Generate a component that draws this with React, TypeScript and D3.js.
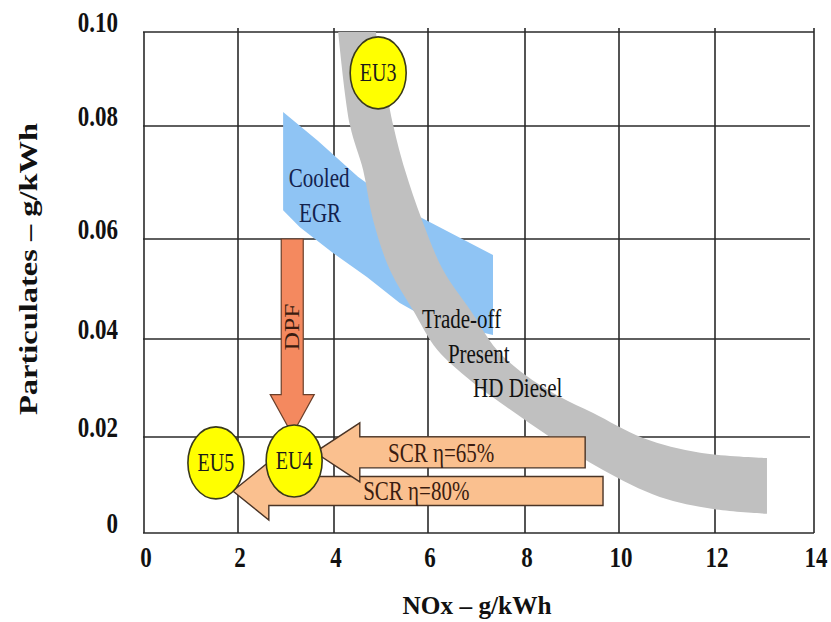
import React from "react";
import * as d3 from "d3";

// ---- axes ----
const NOX_TICKS = [0, 2, 4, 6, 8, 10, 12, 14];
const PM_TICKS = [0, 0.02, 0.04, 0.06, 0.08, 0.1];
const PM_TICK_LABELS = ["0", "0.02", "0.04", "0.06", "0.08", "0.10"];
const NOX_TICK_LABELS = ["0", "2", "4", "6", "8", "10", "12", "14"];

// ---- trade-off band (NOx, PM) ----
const TRADEOFF_LOWER: [number, number][] = [
  [4.09, 0.1], [4.34, 0.0802], [4.62, 0.0722], [4.83, 0.0634], [5.19, 0.0538],
  [5.68, 0.0458], [6.19, 0.0378], [6.87, 0.0316], [7.48, 0.0271], [8.53, 0.02],
  [9.66, 0.0131], [10.85, 0.0075], [11.96, 0.005], [13.05, 0.004],
];
const TRADEOFF_UPPER: [number, number][] = [
  [4.89, 0.1], [5.26, 0.0802], [5.51, 0.0722], [5.87, 0.0634], [6.31, 0.0538],
  [6.87, 0.0458], [7.42, 0.0378], [8.0, 0.0327], [8.74, 0.0282], [9.45, 0.0249],
  [10.5, 0.0198], [11.69, 0.0167], [13.05, 0.0156],
];

// ---- cooled EGR region (NOx, PM) ----
const EGR_REGION: [number, number][] = [
  [2.94, 0.083], [3.65, 0.0775], [4.51, 0.071], [5.19, 0.0669], [5.83, 0.0639],
  [7.34, 0.0568], [7.34, 0.0408], [6.04, 0.0438], [5.4, 0.0472], [4.7, 0.0524],
  [3.98, 0.0572], [3.29, 0.0621], [2.94, 0.0651],
];

// ---- emission stages ----
const STAGES = ["EU3", "EU5", "EU4"];
const STAGE_NOX = [4.94, 1.53, 3.17];
const STAGE_PM = [0.0913, 0.0146, 0.015];

// ---- arrows: [fromNOx, fromPM, toNOx, toPM] ----
const DPF_ARROW = [3.13, 0.06, 3.13, 0.0205];
const SCR80_ARROW = [9.66, 0.00875, 1.89, 0.00875];
const SCR65_ARROW = [9.28, 0.0168, 3.6, 0.0168];

// ---- annotations ----
const NOTES = [
  { text: "Cooled", nox: 3.69, pm: 0.0692, anchor: "middle", color: "#13224d" },
  { text: "EGR", nox: 3.71, pm: 0.063, anchor: "middle", color: "#13224d" },
  { text: "Trade-off", nox: 5.87, pm: 0.0422, anchor: "start", color: "#111" },
  { text: "Present", nox: 6.41, pm: 0.0351, anchor: "start", color: "#111" },
  { text: "HD Diesel", nox: 6.93, pm: 0.0282, anchor: "start", color: "#111" },
  { text: "SCR η=65%", nox: 5.15, pm: 0.0148, anchor: "start", color: "#3a1c10" },
  { text: "SCR η=80%", nox: 4.62, pm: 0.0069, anchor: "start", color: "#3a1c10" },
];

const W = 831;
const H = 622;
const SY = 1.25;
const FONT = "Liberation Serif, Times New Roman, serif";

const x = d3.scaleLinear().domain(NOX_TICKS).range([144, 238, 334, 428, 525, 619, 715, 814]);
const y = d3.scaleLinear().domain(PM_TICKS).range([533, 437, 339, 239, 126, 32]);

function arrowPath(a: number[], shaftHalf: number, headHalf: number, headLen: number) {
  const x0 = x(a[0]), y0 = y(a[1]), x1 = x(a[2]), y1 = y(a[3]);
  const dx = x1 - x0, dy = y1 - y0;
  const len = Math.hypot(dx, dy);
  const ux = dx / len, uy = dy / len;
  const px = -uy, py = ux;
  const bx = x1 - ux * headLen, by = y1 - uy * headLen;
  const pts: [number, number][] = [
    [x0 + px * shaftHalf, y0 + py * shaftHalf],
    [bx + px * shaftHalf, by + py * shaftHalf],
    [bx + px * headHalf, by + py * headHalf],
    [x1, y1],
    [bx - px * headHalf, by - py * headHalf],
    [bx - px * shaftHalf, by - py * shaftHalf],
    [x0 - px * shaftHalf, y0 - py * shaftHalf],
  ];
  return d3.line()(pts) + "Z";
}

function STxt({ tx, ty, anchor = "start", size = 21, weight = "normal", color = "#111", sy = SY, children, len }: any) {
  return (
    <g transform={`translate(${tx},${ty}) scale(1,${sy})`}>
      <text
        x={0}
        y={0}
        textAnchor={anchor}
        fontFamily={FONT}
        fontSize={size}
        fontWeight={weight}
        fill={color}
        textLength={len}
        lengthAdjust={len ? "spacingAndGlyphs" : undefined}
      >
        {children}
      </text>
    </g>
  );
}

export default function App() {
  const bandLine = d3.line<[number, number]>().x((d) => x(d[0])).y((d) => y(d[1])).curve(d3.curveCatmullRom);
  const upperPath = bandLine(TRADEOFF_UPPER) as string;
  const lowerPath = bandLine([...TRADEOFF_LOWER].reverse()) as string;
  const bandPath = upperPath + "L" + lowerPath.slice(1) + "Z";

  const egrLine = d3.line<[number, number]>().x((d) => x(d[0])).y((d) => y(d[1]));
  const egrPath = egrLine(EGR_REGION) + "Z";

  const gridColor = "#2a2a2a";
  const x0 = x(0), x1 = x(14), yTop = y(0.1), yBot = y(0);

  return (
    <svg width={W} height={H} style={{ position: "absolute", left: 0, top: 0, background: "#fff" }}>
      <rect x={0} y={0} width={W} height={H} fill="#fff" />
      {/* grid */}
      {NOX_TICKS.map((v) => (
        <line key={"vx" + v} x1={x(v)} x2={x(v)} y1={v === 0 ? yTop : yTop - 4} y2={yBot} stroke={gridColor} strokeWidth={1.6} />
      ))}
      {PM_TICKS.map((v) => (
        <line key={"hy" + v} x1={x0 - 1} x2={v === 0 || v === 0.1 ? x1 : x1 - 4} y1={y(v)} y2={y(v)} stroke={gridColor} strokeWidth={1.6} />
      ))}

      {/* EGR region */}
      <path d={egrPath} fill="#8fc4f4" />
      {/* trade-off band */}
      <path d={bandPath} fill="#c0c0c0" />

      {/* arrows */}
      <path d={arrowPath(DPF_ARROW, 11, 22, 40)} fill="#f4895f" stroke="#6b3f2a" strokeWidth={1.2} />
      <path d={arrowPath(SCR80_ARROW, 14.5, 29, 36)} fill="#fac08f" stroke="#4a3426" strokeWidth={1.4} />
      <path d={arrowPath(SCR65_ARROW, 15.5, 29.5, 45)} fill="#fac08f" stroke="#4a3426" strokeWidth={1.4} />

      {/* DPF label */}
      <g transform={`translate(${x(DPF_ARROW[0]) + 7},${y(0.0424)}) rotate(-90)`}>
        <text textAnchor="middle" fontFamily={FONT} fontSize={20} fill="#3a1c10" textLength={47} lengthAdjust="spacingAndGlyphs">DPF</text>
      </g>

      {/* stages */}
      {STAGES.map((s, i) => (
        <g key={s}>
          <ellipse cx={x(STAGE_NOX[i])} cy={y(STAGE_PM[i])} rx={28} ry={36} fill="#ffff00" stroke="#3a3a1a" strokeWidth={1.6} />
          <STxt tx={x(STAGE_NOX[i])} ty={y(STAGE_PM[i]) + 8} anchor="middle" size={20} color="#1a1a1a">
            {s}
          </STxt>
        </g>
      ))}

      {/* annotations */}
      {NOTES.map((n) => (
        <STxt key={n.text} tx={x(n.nox)} ty={y(n.pm)} anchor={n.anchor} size={21} color={n.color}>
          {n.text}
        </STxt>
      ))}

      {/* tick labels */}
      {PM_TICKS.map((v, i) => (
        <STxt key={"yl" + v} tx={118} ty={y(v)} anchor="end" size={23} weight="bold" sy={1.28} color="#111">
          {PM_TICK_LABELS[i]}
        </STxt>
      ))}
      {NOX_TICKS.map((v, i) => (
        <STxt key={"xl" + v} tx={x(v) + 2} ty={567} anchor="middle" size={23} weight="bold" sy={1.28} color="#111">
          {NOX_TICK_LABELS[i]}
        </STxt>
      ))}

      {/* axis titles */}
      <STxt tx={477} ty={614} anchor="middle" size={24} weight="bold" sy={1.08} len={149} color="#111">
        NOx – g/kWh
      </STxt>
      <g transform={`translate(37,269) rotate(-90)`}>
        <text textAnchor="middle" fontFamily={FONT} fontSize={26} fontWeight="bold" fill="#111" textLength={292} lengthAdjust="spacingAndGlyphs">
          Particulates – g/kWh
        </text>
      </g>
    </svg>
  );
}
